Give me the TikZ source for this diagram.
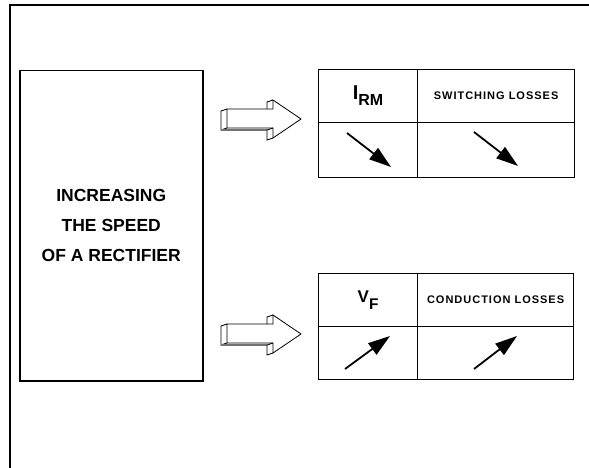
\documentclass[tikz,border=0pt]{standalone}
\usepackage{fontspec}
\setmainfont{Liberation Sans}
\newfontfamily\spacedfont[LetterSpace=9]{Liberation Sans}
\usetikzlibrary{arrows.meta}
\tikzset{
  hollowarrow/.pic={
    \draw[line width=0.8pt, line join=miter]
      (-74,-10) -- (-28,-10) -- (-28,-19) -- (0,0) -- (-28,19) -- (-28,9) -- (-74,9) -- cycle;
    \draw[line width=0.8pt] (-74,-10) -- (-80,-8) -- (-80,11) -- (-74,9);
    \draw[line width=1.2pt, black!55] (-80,11) -- (-34,11);
    \draw[line width=0.8pt] (-34,11) -- (-28,9);
    \draw[line width=0.8pt] (-28,-19) -- (-34,-17) -- (-34,-10);
    \draw[line width=0.8pt] (-28,19) -- (-34,21) -- (-34,11);
  }
}
\begin{document}
\begin{tikzpicture}[x=1pt,y=-1pt,
  frame/.style={line width=2pt},
  bigbox/.style={draw, line width=1.5pt, rectangle, inner sep=0pt, anchor=north west},
  cell/.style={draw, line width=1.2pt, rectangle, inner sep=0pt, anchor=north west},
  smalltext/.style={font=\spacedfont\bfseries\fontsize{11}{13}\selectfont},
  trend/.style={line width=1.8pt, -{Triangle[length=22pt,width=14pt]}},
]
\useasboundingbox (0,0) rectangle (589,468);
\fill[white] (0,0) rectangle (589,468);
\draw[frame] (10,468) -- (10,5) -- (589,5);

\node[bigbox, minimum width=183pt, minimum height=310pt, align=center,
      font=\bfseries\fontsize{17.5}{30}\selectfont] (speed) at (19,70)
      {INCREASING\\THE SPEED\\OF A RECTIFIER};

% top table
\node[cell, minimum width=99pt, minimum height=53pt, font=\bfseries] (irm) at (318,69)
  {{\fontsize{20}{20}\selectfont I}\raisebox{-6pt}{\fontsize{16}{16}\selectfont RM}};
\node[cell, minimum width=157pt, minimum height=53pt, smalltext] (sw) at (417,69) {SWITCHING LOSSES};
\node[cell, minimum width=99pt, minimum height=55pt] (irmd) at (318,122) {};
\node[cell, minimum width=157pt, minimum height=55pt] (swd) at (417,122) {};

% bottom table
\node[cell, minimum width=99pt, minimum height=53pt, font=\bfseries] (vf) at (318,273)
  {{\fontsize{17}{17}\selectfont V}\raisebox{-7pt}{\fontsize{15.5}{16}\selectfont F}\hspace{8pt}};
\node[cell, minimum width=156pt, minimum height=53pt, smalltext] (cl) at (417,273) {CONDUCTION LOSSES};
\node[cell, minimum width=99pt, minimum height=53pt] (vfd) at (318,326) {};
\node[cell, minimum width=156pt, minimum height=53pt] (cld) at (417,326) {};

% hollow arrows
\pic at (301,119) {hollowarrow};
\pic at (301,334) {hollowarrow};

% trend arrows
\coordinate (a1) at (347,133); \coordinate (b1) at (391,167);
\coordinate (a2) at (474,132); \coordinate (b2) at (518,166);
\coordinate (a3) at (345,369); \coordinate (b3) at (390,336);
\coordinate (a4) at (474,369); \coordinate (b4) at (517,336);
\draw[trend] (a1) -- (b1);
\draw[trend] (a2) -- (b2);
\draw[trend] (a3) -- (b3);
\draw[trend] (a4) -- (b4);
\end{tikzpicture}
\end{document}
